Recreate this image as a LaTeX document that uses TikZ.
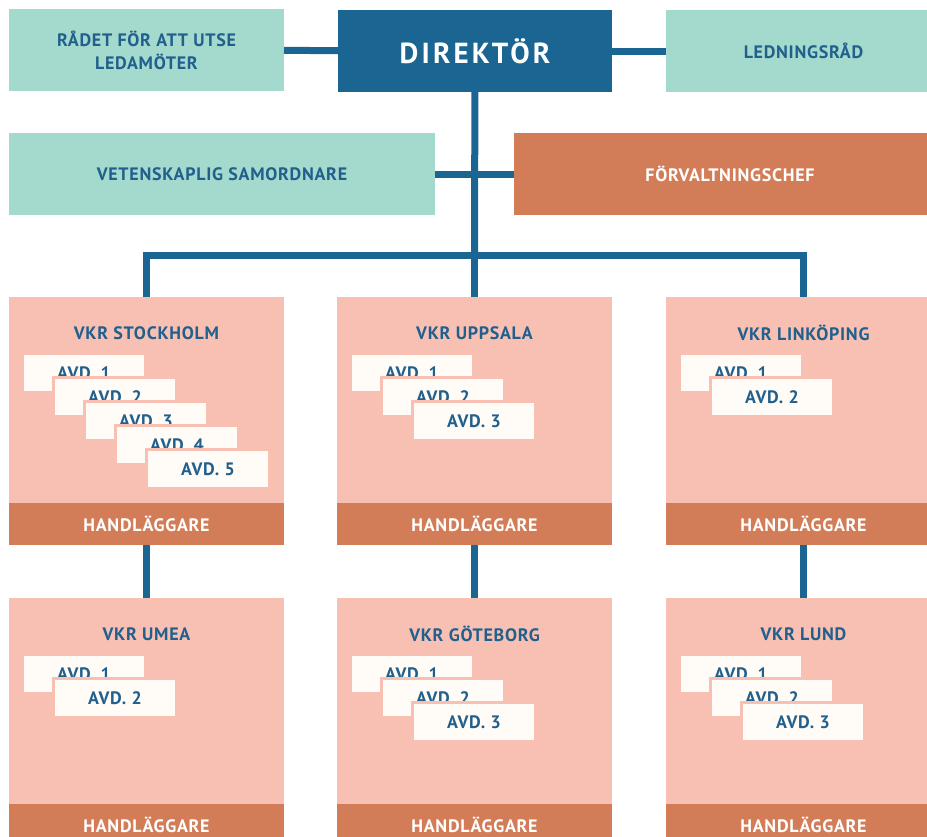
\documentclass[tikz,border=0pt]{standalone}
\usepackage{fontspec}
\setmainfont{PT Sans}
\usetikzlibrary{positioning}

\definecolor{mint}{HTML}{A4D9CE}
\definecolor{dirblue}{HTML}{1B6593}
\definecolor{inkblue}{HTML}{215F8C}
\definecolor{clay}{HTML}{D27D57}
\definecolor{blush}{HTML}{F8C0B3}
\definecolor{paper}{HTML}{FFFCF7}

\begin{document}
\begin{tikzpicture}[x=1pt, y=-1pt,
    every node/.style={inner sep=0pt, outer sep=0pt,
        font=\bfseries\fontsize{18}{23}\selectfont\addfontfeature{LetterSpace=4}},
    mintbox/.style={fill=mint, text=inkblue, minimum height=82pt, align=center},
    chiefbox/.style={fill=dirblue, text=white, minimum height=82pt, minimum width=274pt,
        font=\bfseries\fontsize{29}{32}\selectfont\addfontfeature{LetterSpace=11}},
    adminbox/.style={fill=clay, text=white, minimum height=82pt},
    region/.style={fill=blush, minimum width=275pt, minimum height=248pt},
    band/.style={fill=clay, text=white, minimum width=275pt, minimum height=42pt},
    avd/.style={fill=paper, draw=blush, line width=3pt, text=inkblue,
        minimum width=123pt, minimum height=39pt},
    link/.style={draw=dirblue, line width=7pt}]

    \useasboundingbox (0,0) rectangle (927,836);

    % top row
    \node[mintbox, minimum width=275pt] (council) at (146.5,50) {RÅDET FÖR ATT UTSE\\LEDAMÖTER};
    \node[chiefbox] (director) at (475,51) {DIREKTÖR};
    \node[mintbox, minimum width=275pt] (board) at (803.5,51) {LEDNINGSRÅD};

    % staff row
    \node[mintbox, minimum width=426pt] (coordinator) at (222,174) {VETENSKAPLIG SAMORDNARE};
    \node[adminbox, minimum width=432pt] (admin) at (730,174) {FÖRVALTNINGSCHEF};

    % regional offices
    \foreach \name/\cx/\cy/\title/\navd in {stockholm/146.5/297/{VKR STOCKHOLM}/5,
            uppsala/474.5/297/{VKR UPPSALA}/3, linkoping/803.5/297/{VKR LINKÖPING}/2,
            umea/146.5/598/{VKR UMEA}/2, goteborg/474.5/598/{VKR GÖTEBORG}/3,
            lund/803.5/598/{VKR LUND}/3} {
        \node[region, anchor=north] (\name) at (\cx,\cy) {};
        \node[text=inkblue] (\name-title) at (\cx,\cy+36) {\title};
        \foreach \k in {1,...,\navd}
            \node[avd] (\name-\k) at (\cx-62.5+31*\k-31, \cy+76+24*\k-24) {AVD. \k};
        \node[band] (\name-staff) at (\cx,\cy+227) {HANDLÄGGARE};
    }

    \coordinate (hub) at (474.5,255);

    % connectors
    \draw[link] (council) -- (director);
    \draw[link] (director) -- (board);
    \draw[link] (coordinator) -- (admin);
    \draw[link] (director) -- (hub);
    \draw[link] (stockholm) |- (hub) -| (linkoping);
    \draw[link] (hub) -- (uppsala);
    \draw[link] (stockholm) -- (umea);
    \draw[link] (uppsala) -- (goteborg);
    \draw[link] (linkoping) -- (lund);
\end{tikzpicture}
\end{document}
